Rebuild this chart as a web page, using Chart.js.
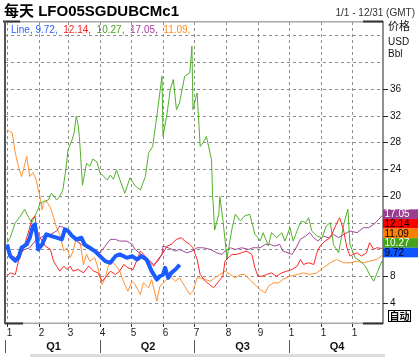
<!DOCTYPE html>
<html><head><meta charset="utf-8">
<script src="https://cdn.jsdelivr.net/npm/chart.js@4"></script>
<style>html,body{margin:0;padding:0;background:#fff;}#wrap{position:relative;width:418px;height:357px;}</style>
</head><body><div id="wrap"><canvas id="c"></canvas></div>
<script>
const titleText = "每天 LFO05SGDUBCMc1";
const dateRangeText = "1/1 - 12/31 (GMT)";
const monthTickDays = [0,31,59,90,120,151,181,212,243,273,304,334];
const monthTickLabels = ["1","2","3","4","5","6","7","8","9","1","1","1"];
const quarterBounds = [-2,90,181,273,364];
const quarterLabels = ["Q1","Q2","Q3","Q4"];
const yGridTicks = [4,8,12,16,20,24,28,32,36,40,44];
const yLabelTicks = [4,8,12,16,20,24,28,32,36];
const unitLabels = ["价格","USD","Bbl"];
const autoLabel = "自动";

const seriesNames = ["Line","","","",""];
const lastValues = [9.72,12.14,10.27,17.05,11.09];

const blueDays = [0,3,8,11,14,19,22,25,27,29,30,34,38,43,48,53,56,59,63,67,72,75,80,85,90,95,100,105,109,116,121,126,130,135,140,145,148,151,153,156,159,163,166,167];
const blueValues = [12.75,11.0,10.3,10.75,12.25,12.75,13.75,15.5,15.75,13.75,12.0,12.75,14.25,14.0,13.75,13.5,15.0,14.75,14.0,13.5,13.75,12.75,12.25,11.75,11.0,10.25,10.0,11.0,11.25,10.75,11.0,10.5,11.0,10.5,8.75,7.5,8.0,8.25,9.25,7.75,8.5,9.0,9.5,9.72];

const redDays = [0,3,8,11,16,21,24,27,29,32,37,42,45,48,51,55,58,61,64,69,74,79,84,88,92,95,100,105,109,113,117,122,126,129,134,137,142,146,150,155,159,164,169,172,177,180,184,187,192,196,200,205,209,211,214,218,222,227,232,237,240,243,247,251,256,261,266,271,276,281,284,287,292,297,300,303,308,313,318,321,322,326,329,332,335,339,343,348,351,355,358,363];
const redValues = [8,8.5,8.25,10.25,12.25,14.75,16.5,17,14.75,13.75,12.5,12,10.25,9.5,8.75,9.5,9,9.5,8.75,9,8.5,9.5,8.75,8.5,7.25,7.75,8.75,8.25,8.75,9.75,9.25,9,10.5,11.75,11,10.25,9.5,10.5,11.25,12.5,12.75,13.5,13.75,13.25,12.75,12.25,10.5,8.25,7.25,6.75,6.25,7.25,8,10.25,10.75,11.25,11.25,11.5,11.75,11.25,9.25,8,8,8.25,8.5,8,8.5,8.75,9,9.5,10.5,9.75,10,9.75,11.5,12.5,13.25,13.75,15.5,16.5,16.75,14.75,12.25,11,11.25,11.5,11,11.5,13,12,12.25,12.14];

const greenDays = [0,3,8,13,17,21,24,27,30,32,36,40,43,48,51,54,57,59,63,65,67,69,70,73,77,80,83,87,90,93,97,100,103,106,109,114,119,124,129,134,137,141,145,150,151,155,158,161,164,167,172,177,179,180,184,187,190,193,198,199,201,205,206,209,213,214,218,221,226,230,235,240,243,245,248,253,256,261,266,269,274,277,282,285,289,292,295,300,305,309,313,316,321,326,330,332,337,342,347,351,355,359,363];
const greenValues = [13,13.75,16,17,18,16.75,16,17,18,18.9,19.2,19.4,20.4,19.4,19.9,20.9,24,26.9,28.4,29.5,31.9,30.5,28.9,21.6,24.9,24.4,25.5,25.1,23.4,23,22.4,23.1,22.5,23.9,22.5,20.4,22.7,21.5,20.9,22.9,26.4,27.4,31.9,37.9,28.9,32.4,35.9,37.4,32.9,33.9,37.9,38.4,42.4,32.9,35.4,27.4,28,28.9,25.4,20.25,14.9,17.25,19.9,16.4,10.5,11.75,15.25,17.25,16.25,17,17.25,14.25,13.75,13.25,14.5,12.5,14.5,13.75,14.5,13.25,15.25,13.25,15.25,16.25,16,16.75,14.75,14,13.75,15.5,16,12.75,11.5,15.75,18,12.75,10.75,10.25,9.5,8.25,7.25,8.75,10.27];

const purpleDays = [0,3,8,13,17,22,27,30,35,42,48,51,55,58,63,67,72,77,84,90,95,100,105,109,116,121,124,130,137,142,146,150,151,156,163,167,174,179,184,190,197,203,208,211,216,221,227,234,238,245,250,255,259,264,267,272,276,279,284,289,293,297,301,306,311,316,321,326,332,339,345,350,355,360,363];
const purpleValues = [12.5,11.25,10.75,11.5,12,12.25,13.25,13.5,14,14.25,14.75,15.5,15.25,14.75,14,13.25,12.75,12.25,12,11.5,12.5,13.5,13.5,13.25,13.25,12.75,12,11.25,10.5,9.75,10.25,11.25,12.5,12.25,11.75,12,11.5,11.75,12.25,12.25,12,11.5,11.25,11.75,12.25,12,12.25,12,12.25,12.25,12.75,12.75,12.5,12.75,11.75,11.5,11.25,12,13.5,14,14.5,13.75,13.25,14,13.75,14.25,13.75,14.25,14.75,14.5,15.25,15.25,15.75,16.5,17.05];

const orangeDays = [0,5,8,11,14,16,19,22,25,28,32,34,35,38,42,45,48,51,55,58,61,64,67,71,74,77,80,85,88,92,95,98,101,106,109,114,117,121,124,129,132,137,140,145,148,153,158,163,167,172,177,180,184,187,192,197,201,206,211,216,221,226,230,235,240,245,250,253,258,263,267,274,281,287,293,300,306,313,319,326,332,339,345,351,358,363];
const orangeValues = [29.9,29.4,26.4,24.4,22.9,24,25.9,22.9,23.5,22.5,19.75,17.9,18.75,19.25,18.25,16.75,15.25,14.25,11.75,12.25,10.75,11.75,13.75,12.75,9.75,11.25,10.25,10.75,9.25,6.75,7.75,9.5,10.25,9.5,8.75,6.75,5.75,7.25,6.75,5.25,7,6.25,7.5,4.25,6.5,7.25,8,7.25,7.75,6.5,5.25,5.75,7.75,7.75,7.5,7.25,7.75,8.25,8.75,8.25,7.75,8.25,8.25,7.5,6.75,6,5.5,6.5,7,7,7.5,8,8.25,8.5,8.25,8.5,9.25,10,10.5,10,10,10.25,10,10.25,10.5,11.09];

// styles
const lineColors = ['#1a5cff','#ff2626','#52b02c','#a04898','#ff9030'];
const lineWidths = [4,1,1,1,1];
const boxColors = ['#0a55ff','#ff0000','#44a318','#993d8e','#ff8000'];
const boxTextColors = ['#000','#000','#fff','#fff','#000'];
const legendColors = ['#3060ff','#ff2020','#44a318','#a03c96','#ff8c1a'];

const allDays = [blueDays, redDays, greenDays, purpleDays, orangeDays];
const allValues = [blueValues, redValues, greenValues, purpleValues, orangeValues];

const FONT = '"Liberation Sans", Arial, "Noto Sans CJK SC", sans-serif';

const deco = {
  id: 'deco',
  beforeDraw(chart){
    const c = chart.ctx;
    c.save(); c.fillStyle = '#fff'; c.fillRect(0,0,chart.width,chart.height); c.restore();
  },
  beforeDatasetsDraw(chart){
    const c = chart.ctx, a = chart.chartArea, xs = chart.scales.x, ys = chart.scales.y;
    c.save();
    c.strokeStyle = '#8c8c8c'; c.lineWidth = 1; c.setLineDash([3,3]);
    monthTickDays.forEach(d => {
      const px = Math.round(xs.getPixelForValue(d)) + 0.5;
      c.beginPath(); c.moveTo(px, a.top); c.lineTo(px, a.bottom); c.stroke();
    });
    yGridTicks.forEach(v => {
      const py = Math.round(ys.getPixelForValue(v)) + 0.5;
      c.beginPath(); c.moveTo(a.left, py); c.lineTo(a.right, py); c.stroke();
    });
    c.restore();
  },
  afterDraw(chart){
    const c = chart.ctx, a = chart.chartArea, xs = chart.scales.x, ys = chart.scales.y;
    c.save();
    // title
    c.fillStyle = '#000'; c.textBaseline = 'alphabetic'; c.textAlign = 'left';
    c.font = 'bold 15px ' + FONT;
    c.fillText(titleText, 4, 15.5);
    c.font = '10px ' + FONT; c.fillStyle = '#333'; c.textAlign = 'right';
    c.fillText(dateRangeText, 415, 16);
    // legend
    c.textAlign = 'left'; c.font = '10px ' + FONT;
    let lx = 11;
    for (let i = 0; i < lastValues.length; i++) {
      const t = (seriesNames[i] ? seriesNames[i] + ', ' : '') + lastValues[i].toFixed(2) + ',  ';
      c.fillStyle = legendColors[i];
      c.fillText(t, lx, 33);
      lx += c.measureText(t).width;
    }
    // borders
    c.fillStyle = '#a8a8a8';
    c.fillRect(a.left, a.top - 1, a.right - a.left, 1.5);
    c.fillRect(a.left, a.bottom - 0.5, a.right - a.left, 1.5);
    c.fillStyle = '#333';
    c.fillRect(3, a.top - 1.5, 17, 2);
    c.fillRect(363, a.top - 1.5, a.right - 363, 2);
    c.fillRect(a.left, a.bottom - 0.5, 18, 2);
    c.fillRect(363, a.bottom - 0.5, a.right - 363, 2);
    c.fillStyle = '#555';
    c.fillRect(a.left - 1, a.top - 1, 2, a.bottom - a.top + 2);
    c.fillStyle = '#222';
    c.fillRect(a.right - 0.5, a.top - 1, 1, a.bottom - a.top + 2);
    // right axis ticks
    c.strokeStyle = '#222'; c.lineWidth = 1;
    c.font = '10px ' + FONT; c.fillStyle = '#111'; c.textAlign = 'left'; c.textBaseline = 'middle';
    yLabelTicks.forEach(v => {
      const py = Math.round(ys.getPixelForValue(v)) + 0.5;
      c.beginPath(); c.moveTo(a.right, py); c.lineTo(a.right + 5, py); c.stroke();
      c.fillText(String(v), a.right + 7, py);
    });
    c.font = '11px ' + FONT;
    c.fillText(unitLabels[0], a.right + 5, 27);
    c.font = '10px ' + FONT;
    c.fillText(unitLabels[1], a.right + 5, 42);
    c.fillText(unitLabels[2], a.right + 5, 54);
    // last value boxes
    const order = lastValues.map((v,i)=>i).sort((p,q)=>lastValues[q]-lastValues[p]);
    let by = ys.getPixelForValue(lastValues[order[0]]) - 6.3;
    const bh = 9.6;
    c.font = '10px ' + FONT;
    order.forEach(i => {
      c.fillStyle = boxColors[i];
      c.fillRect(a.right, by, chart.width - a.right, bh);
      c.fillStyle = boxTextColors[i];
      c.fillText(lastValues[i].toFixed(2), a.right + 1.5, by + bh/2 + 0.5);
      by += bh;
    });
    // auto box
    c.fillStyle = '#fff'; c.fillRect(388, 310, 23, 12);
    c.strokeStyle = '#000'; c.strokeRect(388.5, 310.5, 22, 11);
    c.fillStyle = '#000'; c.font = 'bold 10px "Noto Sans CJK SC", sans-serif'; c.textAlign = 'center';
    c.fillText(autoLabel, 399.5, 316.5);
    // bottom ticks
    c.strokeStyle = '#333'; c.font = '10px ' + FONT; c.fillStyle = '#222';
    monthTickDays.forEach((d,i) => {
      const px = Math.round(xs.getPixelForValue(d)) + 0.5;
      c.beginPath(); c.moveTo(px, a.bottom + 1); c.lineTo(px, a.bottom + 4); c.stroke();
      c.fillText(monthTickLabels[i], px + 2, a.bottom + 10);
    });
    // quarters
    c.strokeStyle = '#555';
    c.font = 'bold 11px ' + FONT; c.fillStyle = '#111';
    for (let i = 0; i < quarterLabels.length; i++) {
      const x0 = xs.getPixelForValue(quarterBounds[i]), x1 = xs.getPixelForValue(quarterBounds[i+1]);
      const sx = Math.round(x0) + 0.5;
      c.beginPath(); c.moveTo(sx, 340); c.lineTo(sx, 353); c.stroke();
      c.fillText(quarterLabels[i], (x0 + x1)/2 + 1, 347);
    }
    // scrollbar
    c.fillStyle = '#dcdcdc'; c.fillRect(30, 354, 355, 3);
    c.restore();
  }
};

new Chart(document.getElementById('c'), {
  type: 'line',
  data: {
    datasets: allDays.map((days, k) => ({
      label: seriesNames[k] || ('s' + k),
      data: days.map((d, i) => ({x: d, y: allValues[k][i]})),
      borderColor: lineColors[k],
      borderWidth: lineWidths[k],
      pointRadius: 0,
      tension: 0,
      fill: false,
      borderJoinStyle: 'round'
    }))
  },
  options: {
    responsive: true, maintainAspectRatio: false, animation: false, devicePixelRatio: 1,
    events: [],
    layout: {padding: {left: 5, right: 35, top: 22, bottom: 34}},
    plugins: {legend: {display: false}, tooltip: {enabled: false}},
    scales: {
      x: {
        type: 'linear', min: -2, max: 364,
        afterBuildTicks: s => { s.ticks = monthTickDays.map(v => ({value: v})); },
        afterFit: s => { s.height = 0; },
        ticks: {display: false},
        grid: {display: false},
        border: {display: false}
      },
      y: {
        position: 'right', min: 1, max: 46,
        afterBuildTicks: s => { s.ticks = yGridTicks.map(v => ({value: v})); },
        afterFit: s => { s.width = 0; },
        ticks: {display: false},
        grid: {display: false},
        border: {display: false}
      }
    }
  },
  plugins: [deco]
});
</script></body></html>
